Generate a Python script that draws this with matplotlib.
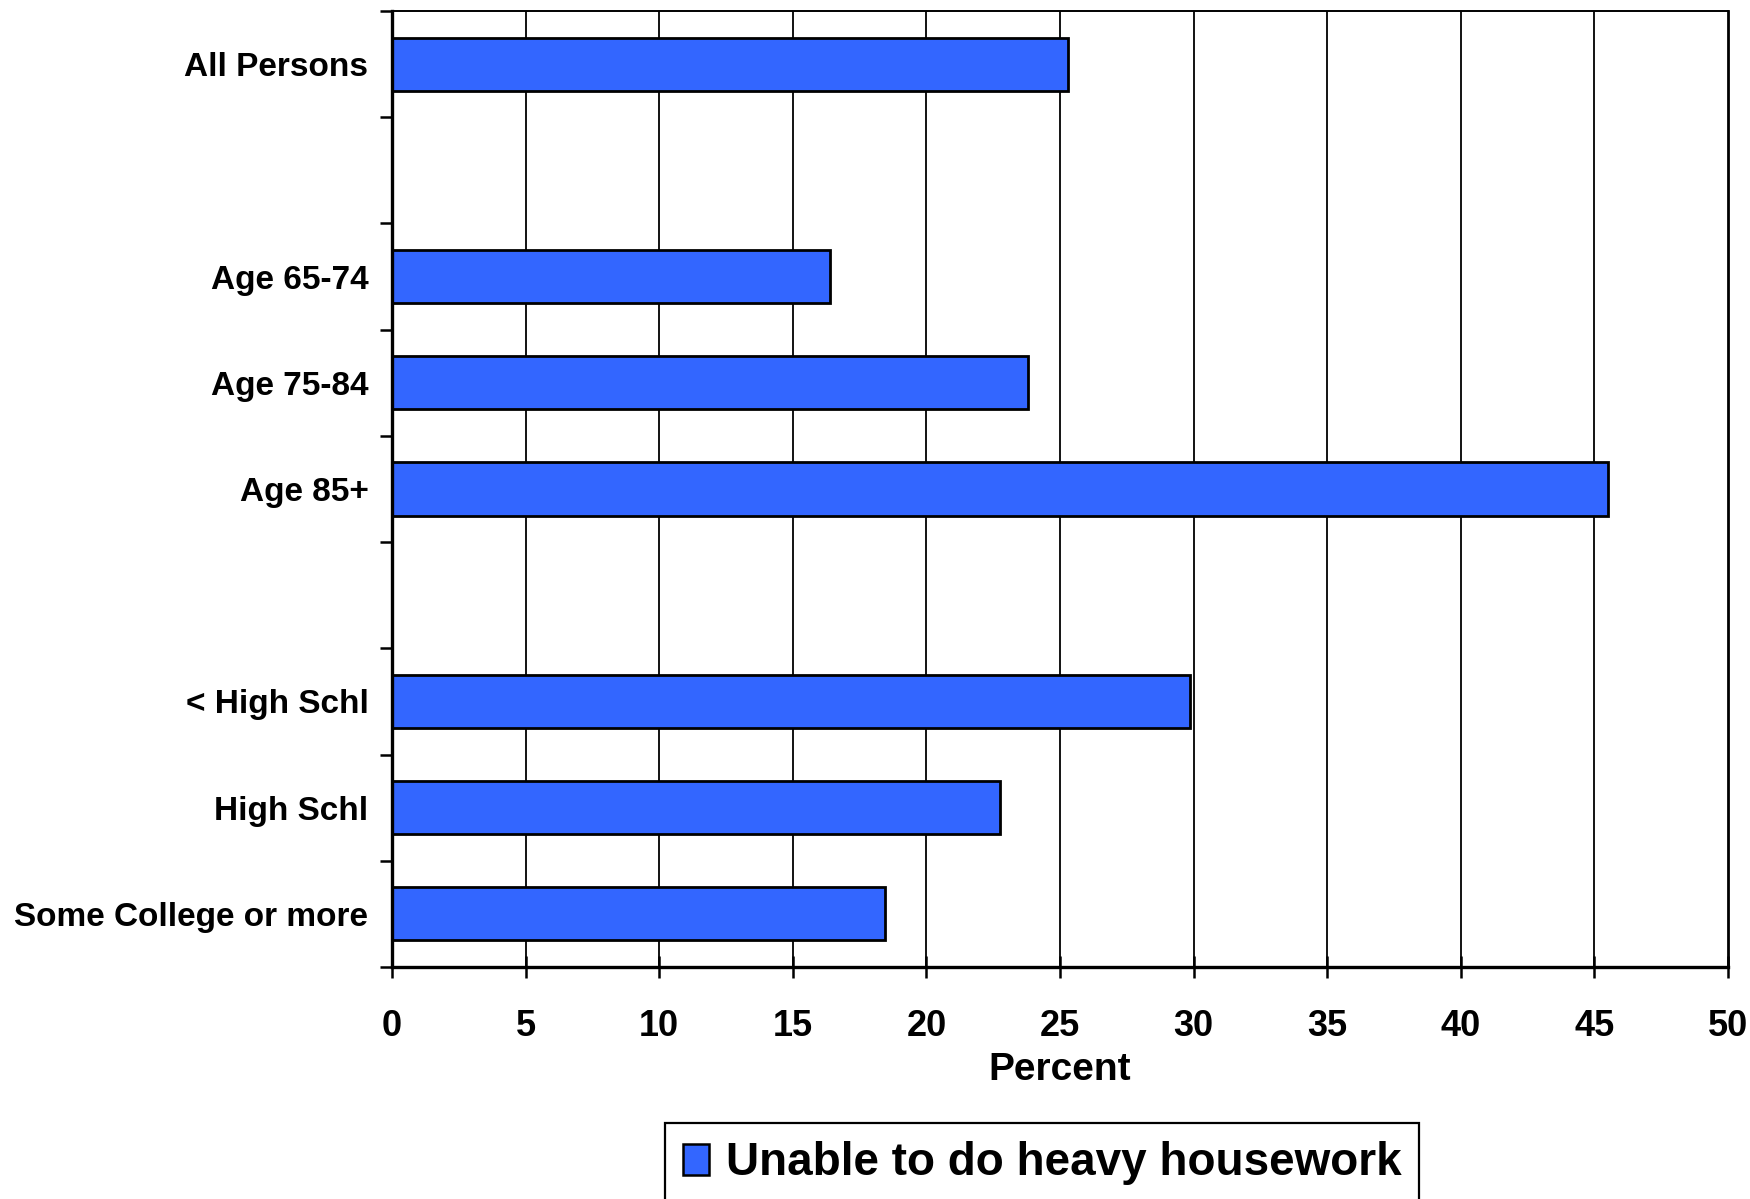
import numpy as np
import matplotlib
matplotlib.use('Agg')
import matplotlib.pyplot as plt
from matplotlib.patches import Patch

#======================================================================
# Dados do grafico ====================================================
#======================================================================

categorias = ['All Persons', '', 'Age 65-74', 'Age 75-84', 'Age 85+', '',
              '< High Schl', 'High Schl', 'Some College or more']
percentual = [25.3, np.nan, 16.4, 23.8, 45.5, np.nan, 29.85, 22.75, 18.45]
rotulo_serie = 'Unable to do heavy housework'
ticks_x = [0, 5, 10, 15, 20, 25, 30, 35, 40, 45, 50]

cor_barra = '#3366FF'

#======================================================================

plt.rcParams['font.family'] = ['Liberation Sans', 'DejaVu Sans']
plt.rcParams['font.weight'] = 'bold'

fig = plt.figure(figsize = (17.5, 11.99), dpi = 100)
ax = fig.add_axes([0.224, 0.1935, 0.7634, 0.7973])

pos = np.arange(len(categorias))

# Grade vertical ======================================================

for t in ticks_x[1:-1]:
    ax.axvline(t, color = 'black', linewidth = 1.3, zorder = 1)

# Barras ==============================================================

ax.barh(pos, percentual, height = 0.5, color = cor_barra, edgecolor = 'black',
        linewidth = 2.0, zorder = 2)

# Eixos ===============================================================

ax.set_xlim(0, 50)
ax.set_ylim(len(categorias) - 0.5, -0.5)

ax.set_xticks(ticks_x)
ax.set_xticklabels([str(t) for t in ticks_x], fontsize = 26, fontweight = 'bold')
ax.tick_params(axis = 'x', direction = 'inout', length = 16, width = 1.8, pad = 22)

ax.set_yticks(np.arange(len(categorias) + 1) - 0.5)
ax.set_yticklabels([])
ax.set_yticks(pos, minor = True)
ax.set_yticklabels(categorias, minor = True, fontsize = 24, fontweight = 'bold')
ax.tick_params(axis = 'y', which = 'major', direction = 'out', length = 9, width = 1.8)
ax.tick_params(axis = 'y', which = 'minor', length = 0, pad = 17)

ax.set_xlabel('Percent', fontsize = 28, fontweight = 'bold', labelpad = 6)

for lado in ['left', 'bottom']:
    ax.spines[lado].set_linewidth(2.4)
ax.spines['top'].set_linewidth(1.4)
ax.spines['right'].set_linewidth(2.0)

# Legenda =============================================================

handle = Patch(facecolor = cor_barra, edgecolor = 'black', linewidth = 1.8)
leg = fig.legend([handle], [rotulo_serie], loc = 'upper left',
                 bbox_to_anchor = (665 / 1750, 1 - 1123 / 1199),
                 prop = {'size': 33, 'weight': 'bold'},
                 frameon = True, fancybox = False, framealpha = 1,
                 handlelength = 0.57, handleheight = 0.65, handletextpad = 0.35,
                 borderpad = 0.4, borderaxespad = 0)
leg.get_frame().set_edgecolor('black')
leg.get_frame().set_linewidth(1.6)

plt.savefig('out.png', dpi = 100)
